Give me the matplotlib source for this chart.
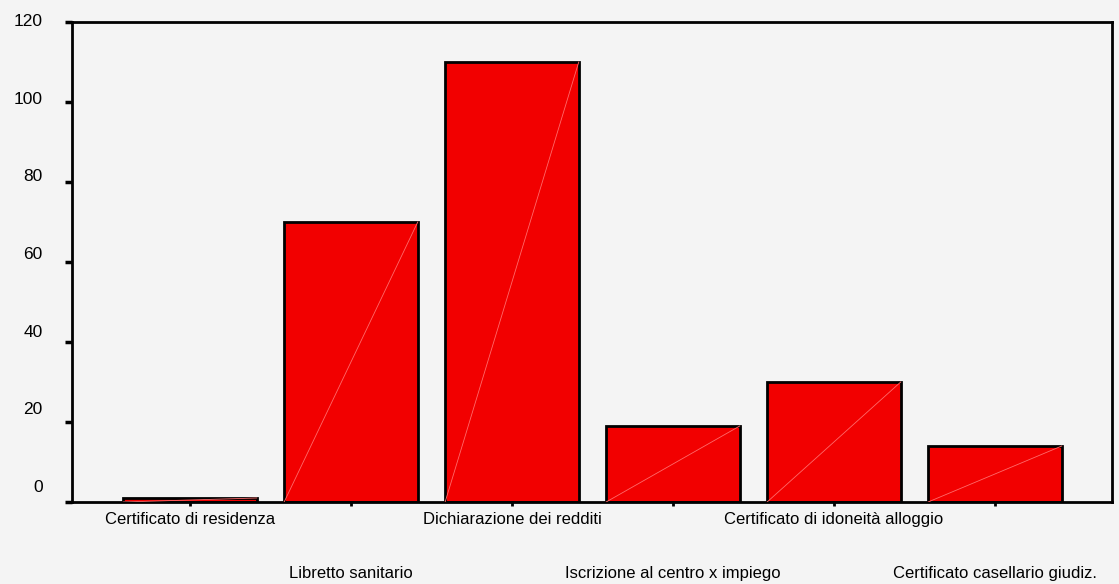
import matplotlib as mpl
mpl.use('agg')
import matplotlib.pyplot as plt
import matplotlib.transforms as mtransforms

categories = ["Certificato di residenza", "Libretto sanitario", "Dichiarazione dei redditi",
              "Iscrizione al centro x impiego", "Certificato di idoneità alloggio",
              "Certificato casellario giudiz."]
values = [1, 70, 110, 19, 30, 14]
yticks = [0, 20, 40, 60, 80, 100, 120]

plt.rcParams['font.family'] = ['Liberation Sans', 'DejaVu Sans']
bg = '#f4f4f4'

fig = plt.figure(figsize=(11.19, 5.84), dpi=100, facecolor=bg)
ax = fig.add_axes([0.0643, 0.1404, 0.9294, 0.8219], facecolor=bg)

x = list(range(len(values)))
w = 0.83
ax.bar(x, values, width=w, color='#f20000', edgecolor='black', linewidth=2, zorder=2)
# thin light diagonal inside each bar
for xi, v in zip(x, values):
    ax.plot([xi - w / 2, xi + w / 2], [0, v], color='#ff6a6a', linewidth=0.6, zorder=3)

ax.set_xlim(-0.733, 5.727)
ax.set_ylim(0, 120)

for s in ax.spines.values():
    s.set_linewidth(2)

ax.set_yticks(yticks)
ax.set_yticklabels([str(t) for t in yticks], fontsize=12.5)
ax.tick_params(axis='y', direction='out', length=5, width=2.5, pad=16)
# labels sit slightly above their ticks in the original
for t, lab in zip(yticks, ax.get_yticklabels()):
    off = (16 - 0.117 * t) / 100
    lab.set_transform(lab.get_transform() + mtransforms.ScaledTranslation(0, off, fig.dpi_scale_trans))

ax.set_xticks(x)
ax.set_xticklabels(categories, fontsize=12)
ax.tick_params(axis='x', direction='out', length=3, width=2, pad=4)
for i, lab in enumerate(ax.get_xticklabels()):
    if i % 2 == 1:
        lab.set_transform(lab.get_transform() + mtransforms.ScaledTranslation(0, -0.54, fig.dpi_scale_trans))

plt.savefig("out.png", dpi=100, facecolor=bg)
